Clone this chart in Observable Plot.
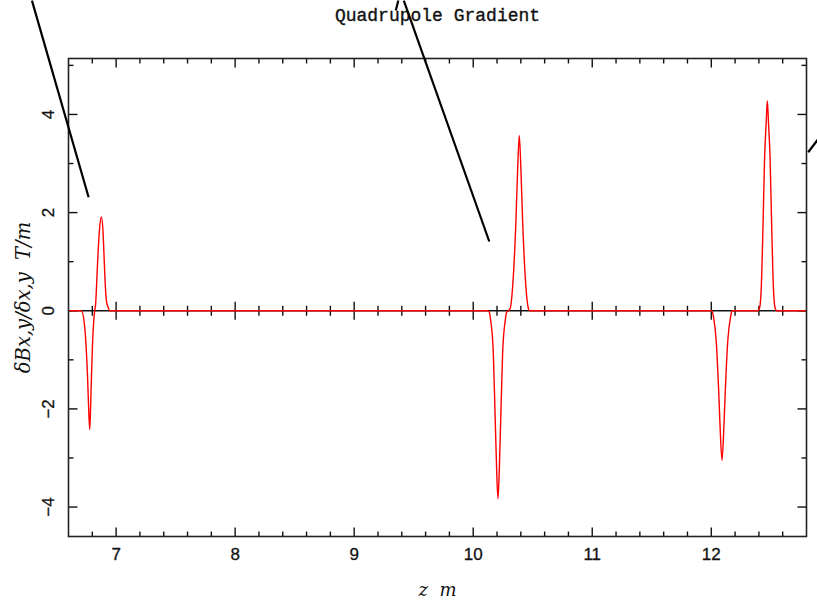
<!DOCTYPE html>
<html>
<head>
<meta charset="utf-8">
<script src="https://cdn.jsdelivr.net/npm/d3@7"></script>
<script src="https://cdn.jsdelivr.net/npm/@observablehq/plot@0.6"></script>
<style>
  html, body { margin: 0; padding: 0; background: #fff; overflow: hidden; }
  #chart svg { display: block; }
</style>
</head>
<body>
<div id="chart"></div>
<script>
// ---- data ----
const titleText = "Quadrupole Gradient";
const xLabel = "z  m";
const yLabel = "δBx,y/δx,y  T/m";

const zValues = [
  6.600, 6.708, 6.736, 6.750, 6.759, 6.767, 6.778, 6.784, 6.792, 6.801, 6.812, 6.820,
  6.828, 6.840, 6.851, 6.862, 6.876, 6.891, 6.899, 6.907, 6.918, 6.933, 6.946,
  10.120, 10.135, 10.147, 10.169, 10.185, 10.197, 10.208, 10.219, 10.231, 10.247, 10.269, 10.281, 10.296,
  10.311, 10.331, 10.359, 10.373, 10.387, 10.401, 10.415, 10.443, 10.463, 10.474,
  12.005, 12.019, 12.041, 12.062, 12.073, 12.090, 12.107, 12.118, 12.139, 12.162, 12.175,
  12.390, 12.405, 12.419, 12.435, 12.448, 12.461, 12.471, 12.481, 12.494, 12.507, 12.523, 12.537, 12.550,
  12.800
];
const gradValues = [
  0, 0, -0.33, -0.81, -1.28, -1.83, -2.42, -2.10, -1.42, -0.74, -0.20, 0,
  0.14, 0.75, 1.30, 1.70, 1.91, 1.57, 1.09, 0.62, 0.21, 0.07, 0,
  0, -0.03, -0.20, -0.87, -2.23, -3.25, -3.83, -3.25, -2.23, -0.87, -0.20, -0.03, 0,
  0.05, 0.48, 1.84, 2.86, 3.57, 2.86, 1.84, 0.48, 0.05, 0,
  0, -0.13, -0.60, -1.62, -2.30, -3.05, -2.30, -1.62, -0.60, -0.13, 0,
  0, 0.05, 0.41, 1.77, 3.12, 3.81, 4.28, 3.81, 3.12, 1.77, 0.41, 0.05, 0,
  0
];

const xMajorTicks = [7, 8, 9, 10, 11, 12];
const xMinorTicks = [6.8, 7.2, 7.4, 7.6, 7.8, 8.2, 8.4, 8.6, 8.8, 9.2, 9.4, 9.6, 9.8,
  10.2, 10.4, 10.6, 10.8, 11.2, 11.4, 11.6, 11.8, 12.2, 12.4, 12.6];
const yMajorTicks = [-4, -2, 0, 2, 4];
const yMinorTicks = [-3, -1, 1, 3, 5];

// black annotation strokes crossing the figure (data coordinates)
const strokeX1 = [6.293, 9.417, 9.350, 12.814];
const strokeY1 = [6.32, 6.32, 6.116, 3.23];
const strokeX2 = [6.769, 10.135, 9.371, 12.930];
const strokeY2 = [2.314, 1.411, 6.32, 3.60];

// ---- build tables ----
const series = zValues.map((z, i) => ({z, g: gradValues[i]}));
const strokes = strokeX1.map((x1, i) => ({x1, y1: strokeY1[i], x2: strokeX2[i], y2: strokeY2[i]}));

// tick symbols (length = r)
const sym = (fn) => ({draw(ctx, size) { const r = Math.sqrt(size / Math.PI); fn(ctx, r); }});
const tickUp = sym((c, r) => { c.moveTo(0, 0); c.lineTo(0, -r); });
const tickDown = sym((c, r) => { c.moveTo(0, 0); c.lineTo(0, r); });
const tickRight = sym((c, r) => { c.moveTo(0, 0); c.lineTo(r, 0); });
const tickLeft = sym((c, r) => { c.moveTo(0, 0); c.lineTo(-r, 0); });
const tickBoth = sym((c, r) => { c.moveTo(0, -r); c.lineTo(0, r); });

const tickStyle = {fill: "none", stroke: "#111", strokeWidth: 1.4};
const fmt = (d) => d < 0 ? "\u2212" + Math.abs(d) : String(d);
const labelFont = {fontSize: 17, fontFamily: "Liberation Sans, Arial, sans-serif", fill: "#111",
  stroke: "#111", strokeWidth: 0.3, textAnchor: "middle", lineAnchor: "middle"};
const mathFont = {fontStyle: "italic", fontFamily: "DejaVu Serif, Liberation Serif, serif", fill: "#111",
  textAnchor: "middle", lineAnchor: "middle"};

const plot = Plot.plot({
  width: 817,
  height: 606,
  marginLeft: 68,
  marginRight: 11,
  marginTop: 58,
  marginBottom: 70,
  style: {background: "#fff", overflow: "visible"},
  x: {domain: [6.6, 12.8], axis: null},
  y: {domain: [-4.6, 5.14], axis: null},
  marks: [
    // zero axis line with ticks
    Plot.ruleY([0], {stroke: "#111", strokeWidth: 1.4}),
    Plot.dot(xMajorTicks, {x: d => d, y: () => 0, symbol: tickBoth, r: 9, ...tickStyle}),
    Plot.dot(xMinorTicks, {x: d => d, y: () => 0, symbol: tickBoth, r: 5, ...tickStyle}),
    // bottom / top ticks
    Plot.dot(xMajorTicks, {x: d => d, frameAnchor: "bottom", symbol: tickUp, r: 9, ...tickStyle}),
    Plot.dot(xMinorTicks, {x: d => d, frameAnchor: "bottom", symbol: tickUp, r: 5, ...tickStyle}),
    Plot.dot(xMajorTicks, {x: d => d, frameAnchor: "top", symbol: tickDown, r: 9, ...tickStyle}),
    Plot.dot(xMinorTicks, {x: d => d, frameAnchor: "top", symbol: tickDown, r: 5, ...tickStyle}),
    // left / right ticks
    Plot.dot(yMajorTicks, {y: d => d, frameAnchor: "left", symbol: tickRight, r: 9, ...tickStyle}),
    Plot.dot(yMinorTicks, {y: d => d, frameAnchor: "left", symbol: tickRight, r: 5, ...tickStyle}),
    Plot.dot(yMajorTicks, {y: d => d, frameAnchor: "right", symbol: tickLeft, r: 9, ...tickStyle}),
    Plot.dot(yMinorTicks, {y: d => d, frameAnchor: "right", symbol: tickLeft, r: 5, ...tickStyle}),
    // the gradient curve
    Plot.line(series, {x: "z", y: "g", stroke: "#ff0000", strokeWidth: 1.4, curve: "monotone-x"}),
    // frame
    Plot.frame({stroke: "#222", strokeWidth: 1.6}),
    // tick labels
    Plot.text(xMajorTicks, {x: d => d, frameAnchor: "bottom", dy: 18, text: d => String(d), ...labelFont}),
    Plot.text(yMajorTicks, {y: d => d, frameAnchor: "left", dx: -20, rotate: -90, text: fmt, ...labelFont}),
    // axis titles
    Plot.text([xLabel], {frameAnchor: "bottom", dy: 54, text: d => d, fontSize: 18, ...mathFont}),
    Plot.text([yLabel], {frameAnchor: "left", dx: -45, rotate: -90, text: d => d, fontSize: 19.5, ...mathFont}),
    // title
    Plot.text([titleText], {frameAnchor: "top", dy: -43, text: d => d, fontSize: 18,
      fontFamily: "Liberation Mono, Courier New, monospace", fill: "#111", stroke: "#111", strokeWidth: 0.35,
      textAnchor: "middle", lineAnchor: "middle"}),
    // annotation strokes
    Plot.link(strokes, {x1: "x1", y1: "y1", x2: "x2", y2: "y2", stroke: "#000", strokeWidth: 2.2, clip: false})
  ]
});
document.getElementById("chart").appendChild(plot);
</script>
</body>
</html>
